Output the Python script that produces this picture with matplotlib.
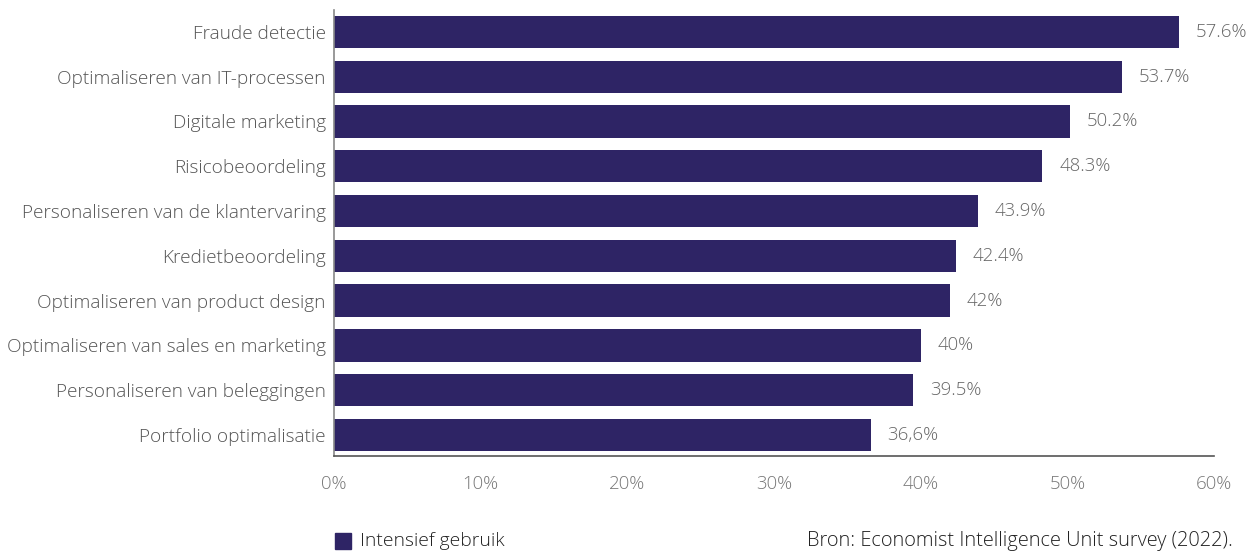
import matplotlib
matplotlib.use("Agg")
import matplotlib.pyplot as plt
from matplotlib.patches import Rectangle

categories = [
    "Fraude detectie",
    "Optimaliseren van IT-processen",
    "Digitale marketing",
    "Risicobeoordeling",
    "Personaliseren van de klantervaring",
    "Kredietbeoordeling",
    "Optimaliseren van product design",
    "Optimaliseren van sales en marketing",
    "Personaliseren van beleggingen",
    "Portfolio optimalisatie",
]
values = [57.6, 53.7, 50.2, 48.3, 43.9, 42.4, 42.0, 40.0, 39.5, 36.6]
value_labels = ["57.6%", "53.7%", "50.2%", "48.3%", "43.9%", "42.4%", "42%", "40%", "39.5%", "36,6%"]
xticks = [0, 10, 20, 30, 40, 50, 60]
xtick_labels = ["0%", "10%", "20%", "30%", "40%", "50%", "60%"]
series_name = "Intensief gebruik"
source = "Bron: Economist Intelligence Unit survey (2022)."

plt.rcParams['font.family'] = ['Open Sans', 'DejaVu Sans']
plt.rcParams['font.weight'] = 'light'

W, H = 1257, 552
fig = plt.figure(figsize=(W / 100, H / 100), dpi=100)
ax = fig.add_axes([334 / W, 1 - 456 / H, (1214 - 334) / W, (456 - 10) / H])

fs = 13.7
bar_color = "#2e2465"
ypos = list(range(len(categories)))
ax.barh(ypos, values, height=0.72, color=bar_color)
for y, v, lab in zip(ypos, values, value_labels):
    ax.annotate(lab, (v, y), xytext=(12, 0), textcoords="offset points",
                va="center", ha="left", fontsize=13.4, color="#666666")

ax.set_xlim(0, 60)
ax.set_ylim(len(categories) - 0.53, -0.49)
ax.set_yticks(ypos)
ax.set_yticklabels(categories, fontsize=fs, color="#555555")
ax.set_xticks(xticks)
ax.set_xticklabels(xtick_labels, fontsize=13.4, color="#777777")
ax.tick_params(axis="both", length=0)
ax.tick_params(axis="y", pad=6)
ax.tick_params(axis="x", pad=14)
for s in ["top", "right"]:
    ax.spines[s].set_visible(False)
ax.spines["left"].set_color("#888888")
ax.spines["bottom"].set_color("#555555")
ax.spines["left"].set_linewidth(1.2)
ax.spines["bottom"].set_linewidth(1.2)

# legend
fig.patches.append(Rectangle((335 / W, 1 - 549 / H), 16 / W, 16 / H,
                             transform=fig.transFigure, color=bar_color))
fig.text(360 / W, 1 - 541 / H, series_name, fontsize=13.9, color="#222222",
         va="center", ha="left")
fig.text(1233 / W, 1 - 541 / H, source, fontsize=14.4, color="#222222",
         va="center", ha="right")

fig.savefig("out.png", dpi=100)
